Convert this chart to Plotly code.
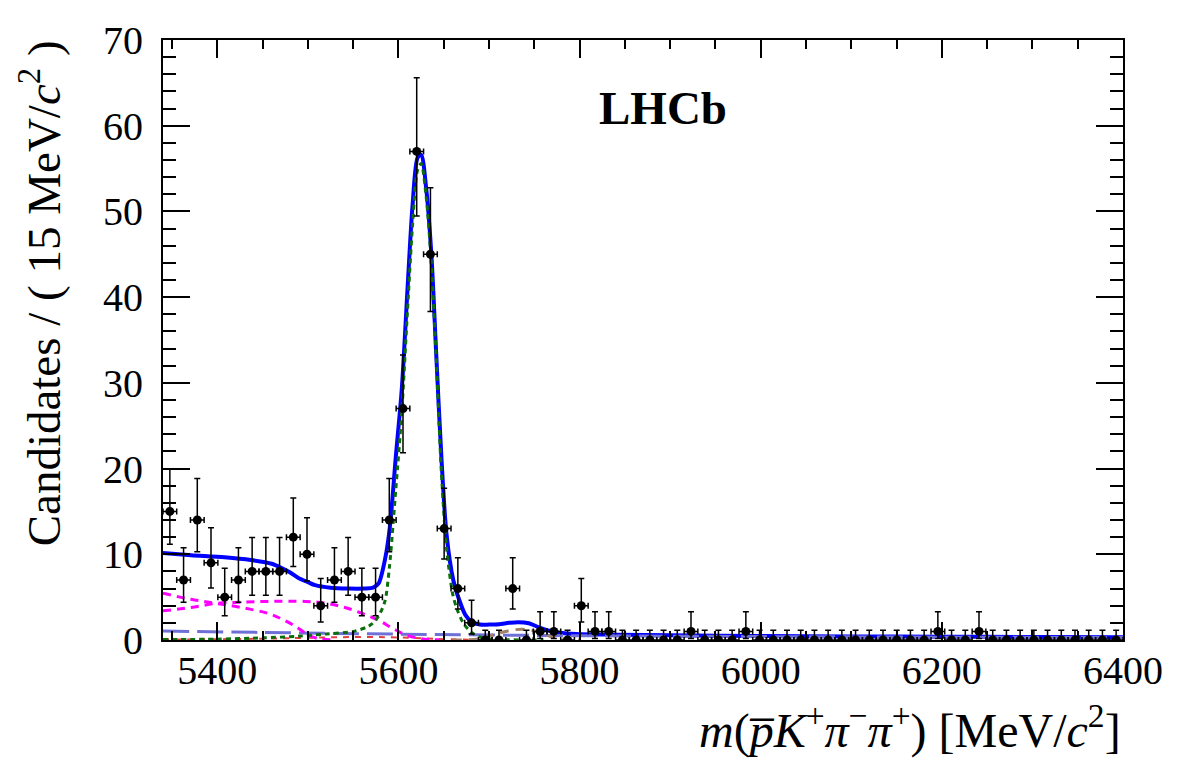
import math
import plotly.graph_objects as go

# ---------------- data ----------------
x_lo, x_hi, n_bins = 5340.0, 6400.0, 70
counts = [15, 7, 14, 9, 5, 7, 8, 8, 8, 12,
          10, 4, 7, 8, 5, 5, 14, 27, 57, 45,
          13, 6, 2, 0, 0, 6, 0, 1, 1, 0,
          4, 1, 1, 0, 0, 0, 0, 0, 1, 0,
          0, 0, 1, 0, 0, 0, 0, 0, 0, 0,
          0, 0, 0, 0, 0, 0, 1, 0, 0, 1,
          0, 0, 0, 0, 0, 0, 0, 0, 0, 0]

# total fit
tot_x = [5340, 5371, 5408, 5437, 5460, 5471, 5480, 5490, 5500, 5508, 5525, 5545, 5562,
         5572, 5578, 5585.5, 5590.5, 5597, 5603.6, 5610, 5615.6, 5621.2, 5625, 5630.5,
         5636.2, 5641.8, 5647.4, 5653, 5660.5, 5667, 5674, 5681, 5690, 5700, 5711, 5722,
         5732, 5744, 5755, 5766, 5778, 5796, 5840, 5900, 6000, 6100, 6200, 6300, 6400]
tot_y = [10.15, 9.9, 9.65, 9.33, 8.9, 8.4, 7.9, 7.2, 6.75, 6.4, 6.1, 6.0, 6.0,
         6.1, 6.6, 9.6, 13.2, 21.3, 29.2, 41.0, 50.8, 56.3, 56.6, 52.8,
         45.2, 33.1, 21.3, 12.4, 7.0, 4.7, 2.9, 2.1, 1.8, 1.8, 1.85, 2.0,
         2.08, 1.95, 1.48, 1.1, 0.85, 0.7, 0.62, 0.55, 0.48, 0.42, 0.38, 0.35, 0.32]

# signal component (green dotted)
sig_x = [5340, 5400, 5450, 5490, 5520, 5550, 5565, 5571, 5578, 5585, 5590, 5597, 5603.6,
         5610, 5615.6, 5621, 5625, 5630.5, 5636, 5642, 5647, 5653, 5660, 5665, 5672,
         5681, 5690, 5700, 5720, 5760]
sig_y = [0.05, 0.1, 0.25, 0.45, 0.7, 1.0, 1.5, 1.9, 2.8, 4.5, 8.5, 17.5, 26.5,
         38.5, 48.5, 54.8, 55.6, 51.8, 44.3, 32.3, 20.3, 10.8, 5.3, 3.5, 1.9,
         0.85, 0.35, 0.12, 0.03, 0.0]

# partially reconstructed backgrounds (magenta dashed)
pra_x = [5340, 5371, 5397, 5426, 5456, 5474, 5489, 5500, 5512, 5530]
pra_y = [5.45, 4.75, 4.3, 3.8, 3.1, 2.3, 1.4, 0.6, 0.15, 0.02]
prb_x = [5340, 5371, 5401, 5426, 5456, 5497, 5519, 5541, 5560, 5578, 5593, 5608, 5625, 5645]
prb_y = [3.4, 3.8, 4.3, 4.4, 4.5, 4.5, 4.3, 3.8, 3.1, 2.3, 1.4, 0.6, 0.15, 0.02]

# combinatorial (blue-violet long dashed)
cmb_x = [5340, 5450, 5600, 5800, 6000, 6200, 6400]
cmb_y = [1.05, 0.88, 0.68, 0.5, 0.4, 0.33, 0.28]

# peaking background (brown dashed)
brn_x = [5660, 5690, 5705, 5715, 5725, 5737, 5748, 5758, 5770, 5785, 5800]
brn_y = [0.0, 0.15, 0.6, 0.9, 1.15, 1.25, 1.1, 0.8, 0.35, 0.08, 0.0]

# small red component
red_x = [5340, 5450, 5520, 5560, 5600, 5650, 5700]
red_y = [0.05, 0.15, 0.3, 0.35, 0.3, 0.1, 0.0]

x_ticks = [5400, 5600, 5800, 6000, 6200, 6400]
y_ticks = [0, 10, 20, 30, 40, 50, 60, 70]

# ---------------- Poisson intervals (68.27%) ----------------
def pcdf(n, mu):
    s, term = 0.0, math.exp(-mu)
    for k in range(n + 1):
        if k > 0:
            term *= mu / k
        s += term
    return s

def solve(f, target, a, b):
    for _ in range(100):
        m = 0.5 * (a + b)
        if f(m) > target:
            a = m
        else:
            b = m
    return 0.5 * (a + b)

alpha = 0.5 * (1 - 0.682689)
err_lo, err_hi = [], []
for n in counts:
    if n == 0:
        err_lo.append(0.0)
        err_hi.append(-math.log(1 - 0.682689))
    else:
        up = solve(lambda mu: pcdf(n, mu), alpha, n, n + 10 * math.sqrt(n) + 10)
        lo = solve(lambda mu: -(1 - pcdf(n - 1, mu)), -alpha, 0.0, n)
        err_lo.append(n - lo)
        err_hi.append(up - n)

bw = (x_hi - x_lo) / n_bins
centers = [x_lo + bw * (i + 0.5) for i in range(n_bins)]

# ---------------- figure ----------------
fig = go.Figure()
fig.add_trace(go.Scatter(x=tot_x, y=tot_y, mode="lines",
                         line=dict(color="#0000ff", width=4, shape="spline", smoothing=0.8)))
fig.add_trace(go.Scatter(x=cmb_x, y=cmb_y, mode="lines",
                         line=dict(color="#6f6fd8", width=3, dash="26px,8px", shape="spline")))
fig.add_trace(go.Scatter(x=red_x, y=red_y, mode="lines",
                         line=dict(color="#e04040", width=2, dash="6px,6px", shape="spline")))
fig.add_trace(go.Scatter(x=brn_x, y=brn_y, mode="lines",
                         line=dict(color="#a08068", width=3, dash="9px,7px", shape="spline")))
fig.add_trace(go.Scatter(x=pra_x, y=pra_y, mode="lines",
                         line=dict(color="#ff00ff", width=3, dash="8px,6px", shape="spline")))
fig.add_trace(go.Scatter(x=prb_x, y=prb_y, mode="lines",
                         line=dict(color="#ff00ff", width=3, dash="8px,6px", shape="spline")))
fig.add_trace(go.Scatter(x=sig_x, y=sig_y, mode="lines",
                         line=dict(color="#0a6e0a", width=3, dash="5px,4px", shape="spline", smoothing=0.8)))
fig.add_trace(go.Scatter(
    x=centers, y=counts, mode="markers",
    marker=dict(color="black", size=9, symbol="circle"),
    error_y=dict(type="data", symmetric=False, array=err_hi, arrayminus=err_lo,
                 color="black", thickness=1.5, width=3),
    error_x=dict(type="constant", value=bw / 2, color="black", thickness=1.5, width=3),
))

font_family = "Liberation Serif, Times New Roman, serif"
axis_common = dict(showline=True, linecolor="black", linewidth=2, mirror="allticks",
                   ticks="inside", tickcolor="black", tickwidth=2, showgrid=False,
                   zeroline=False)
fig.update_layout(
    width=1182, height=763,
    margin=dict(l=163, r=59, t=40, b=123),
    paper_bgcolor="white", plot_bgcolor="white",
    showlegend=False,
    font=dict(family=font_family, color="black", size=40),
    xaxis=dict(range=[x_lo, x_hi], tickvals=x_ticks, ticklen=18,
               minor=dict(ticks="inside", dtick=50, tick0=5400, ticklen=9,
                          tickcolor="black", tickwidth=2, showgrid=False),
               ticklabelstandoff=-6, **axis_common),
    yaxis=dict(range=[0, 70], tickvals=y_ticks, ticklen=27,
               minor=dict(ticks="inside", dtick=2, tick0=0, ticklen=13,
                          tickcolor="black", tickwidth=2, showgrid=False),
               ticklabelstandoff=10, **axis_common),
    annotations=[
        dict(text="Candidates / ( 15 MeV/<i>c</i><sup>2</sup> )", textangle=-90,
             xref="paper", yref="paper", x=-0.128, y=0.578,
             xanchor="center", yanchor="middle", showarrow=False,
             font=dict(family=font_family, size=47, color="black")),
        dict(text="<i>m</i>(<i>p\u0305</i><i>K</i><sup>+</sup><i>\u03c0</i><sup>\u2212</sup>"
                  "<i>\u03c0</i><sup>+</sup>) [MeV/<i>c</i><sup>2</sup>]",
             xref="paper", yref="paper", x=1.0, y=-0.146,
             xanchor="right", yanchor="middle", showarrow=False,
             font=dict(family=font_family, size=48, color="black")),
        dict(text="<b>LHCb</b>", xref="paper", yref="paper", x=0.521, y=0.887,
             xanchor="center", yanchor="middle", showarrow=False,
             font=dict(family=font_family, size=47, color="black")),
    ],
)
fig.update_xaxes(tickfont=dict(family=font_family, size=40, color="black"))
fig.update_yaxes(tickfont=dict(family=font_family, size=40, color="black"))

fig.write_html("out.html")
